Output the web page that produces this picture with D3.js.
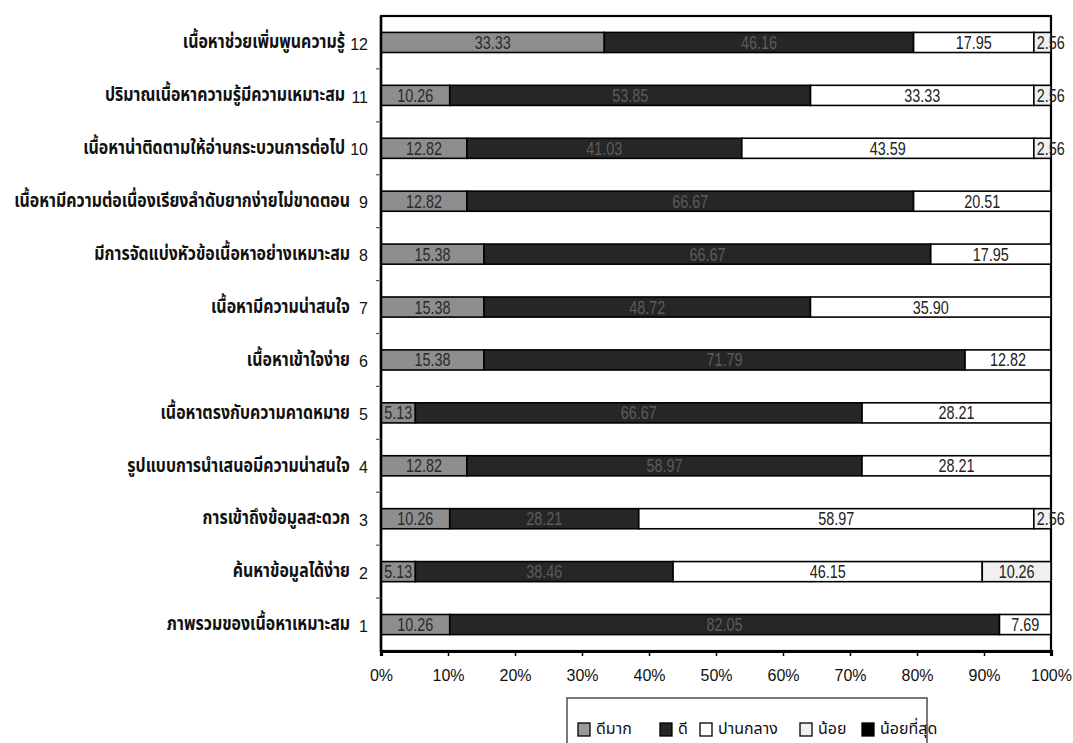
<!DOCTYPE html>
<html><head><meta charset="utf-8">
<script src="https://cdn.jsdelivr.net/npm/d3@7/dist/d3.min.js"></script>
<style>
body{margin:0;background:#fff;}
svg{display:block;}
</style></head>
<body><svg id="c" width="1073" height="743"></svg>
<script>
const categories = [
 "ภาพรวมของเนื้อหาเหมาะสม",
 "ค้นหาข้อมูลได้ง่าย",
 "การเข้าถึงข้อมูลสะดวก",
 "รูปแบบการนำเสนอมีความน่าสนใจ",
 "เนื้อหาตรงกับความคาดหมาย",
 "เนื้อหาเข้าใจง่าย",
 "เนื้อหามีความน่าสนใจ",
 "มีการจัดแบ่งหัวข้อเนื้อหาอย่างเหมาะสม",
 "เนื้อหามีความต่อเนื่องเรียงลำดับยากง่ายไม่ขาดตอน",
 "เนื้อหาน่าติดตามให้อ่านกระบวนการต่อไป",
 "ปริมาณเนื้อหาความรู้มีความเหมาะสม",
 "เนื้อหาช่วยเพิ่มพูนความรู้"
];
const seriesNames = ["ดีมาก","ดี","ปานกลาง","น้อย","น้อยที่สุด"];
const veryGood = [10.26,5.13,10.26,12.82,5.13,15.38,15.38,15.38,12.82,12.82,10.26,33.33];
const good     = [82.05,38.46,28.21,58.97,66.67,71.79,48.72,66.67,66.67,41.03,53.85,46.16];
const medium   = [7.69,46.15,58.97,28.21,28.21,12.82,35.90,17.95,20.51,43.59,33.33,17.95];
const low      = [0,10.26,2.56,0,0,0,0,0,0,2.56,2.56,2.56];
const lowest   = [0,0,0,0,0,0,0,0,0,0,0,0];
const xTicks = [0,10,20,30,40,50,60,70,80,90,100];

const colors = ["#8e8e8e","#262626","#ffffff","#f0f0f0","#000000"];
const labelColors = ["#2a2a2a","#5c5c5c","#222","#222","#888"];

const rows = categories.map((c,i)=>({cat:c, num:i+1, v:[veryGood[i],good[i],medium[i],low[i],lowest[i]]}));

const svg = d3.select("#c");
const L=381, R=1051, T=16, B=651;
const x = d3.scaleLinear().domain([0,100]).range([L,R]);
const order = rows.map(d=>d.num).reverse(); // 12 on top
const y = d3.scaleBand().domain(order).range([T,B]).paddingInner(0.62).paddingOuter(0.31);
const yEdge = d3.scaleLinear().domain([0,12]).range([T,B]);

// plot frame
svg.append("rect").attr("x",L).attr("y",T).attr("width",R-L).attr("height",B-T)
  .attr("fill","#fff").attr("stroke","#000").attr("stroke-width",2.2);

// stacked bars
const stack = d3.stack().keys([0,1,2,3,4]).value((d,k)=>d.v[k]);
const layers = stack(rows);
layers.forEach((layer,k)=>{
  const g = svg.append("g");
  layer.forEach(seg=>{
    const w = seg[1]-seg[0];
    if(w<=0) return;
    g.append("rect").attr("x",x(seg[0])).attr("y",y(seg.data.num))
      .attr("width",x(seg[1])-x(seg[0])).attr("height",y.bandwidth())
      .attr("fill",colors[k]).attr("stroke","#000").attr("stroke-width",1.6);
  });
});
// value labels (condensed)
layers.forEach((layer,k)=>{
  layer.forEach(seg=>{
    const w = seg[1]-seg[0];
    if(w<=0) return;
    const narrow = (x(seg[1])-x(seg[0])) < 30;
    const cx = narrow ? x(seg[0])+3 : x((seg[0]+seg[1])/2);
    const cy = y(seg.data.num)+y.bandwidth()/2;
    svg.append("text").attr("class","val")
      .attr("transform",`translate(${cx},${cy}) scale(0.8,1)`)
      .attr("text-anchor",narrow?"start":"middle").attr("dy","0.36em")
      .attr("font-family","'Liberation Sans','Arial',sans-serif")
      .attr("font-size",18).attr("fill",labelColors[k])
      .text(w.toFixed(2));
  });
});

// x axis
const xa = svg.append("g").attr("transform",`translate(0,${B})`)
  .call(d3.axisBottom(x).tickValues(xTicks).tickFormat(d=>d+"%").tickSize(5).tickPadding(14));
xa.select(".domain").attr("stroke","#000").attr("stroke-width",3.2);
xa.selectAll(".tick line").attr("stroke","#000").attr("stroke-width",1.5);
xa.selectAll("text").attr("font-family","'Liberation Sans','Arial',sans-serif")
  .attr("font-size",16).attr("fill","#111");

// y axis line + edge ticks
svg.append("line").attr("x1",L).attr("x2",L).attr("y1",T).attr("y2",B)
  .attr("stroke","#000").attr("stroke-width",2.5);
svg.append("g").selectAll("line").data(d3.range(1,12)).join("line")
  .attr("x1",L-5).attr("x2",L).attr("y1",d=>yEdge(d)).attr("y2",d=>yEdge(d))
  .attr("stroke","#555").attr("stroke-width",1.2);

// category numbers via axis
const ya = svg.append("g").attr("transform",`translate(${L},0)`)
  .call(d3.axisLeft(y).tickSize(0).tickPadding(13).tickFormat(n=>n));
ya.select(".domain").remove();
ya.selectAll(".tick text").attr("font-family","'Liberation Sans',sans-serif").attr("font-size",16).attr("fill","#111")
  .attr("dy","0.45em");
const catG = svg.append("g");
const catTexts = catG.selectAll("text").data(rows).join("text")
  .attr("text-anchor","end").attr("dy","0.3em")
  .attr("font-family","'Noto Sans Thai','Noto Sans','DejaVu Sans',sans-serif")
  .attr("font-weight","bold").attr("font-size",19).attr("fill","#111")
  .text(d=>d.cat);
// condense to match the narrow Thai face
let maxW = 0; catTexts.each(function(){maxW=Math.max(maxW,this.getComputedTextLength());});
const sx = 336/maxW;
catTexts.attr("transform",d=>{
  const ex = d.num>=10 ? 345 : 350;
  return `translate(${ex},${y(d.num)+y.bandwidth()/2}) scale(${sx},1)`;
});

// legend
const lg = svg.append("g");
lg.append("rect").attr("x",567).attr("y",698).attr("width",360).attr("height",60)
  .attr("fill","#fff").attr("stroke","#333").attr("stroke-width",1.3);
const legX = [578,660,700,800,862];
const legTX = [596,678,718,818,880];
const legColors = ["#9a9a9a","#262626","#ffffff","#f0f0f0","#000000"];
seriesNames.forEach((s,k)=>{
  lg.append("rect").attr("x",legX[k]).attr("y",723).attr("width",12).attr("height",13)
    .attr("fill",legColors[k]).attr("stroke","#000").attr("stroke-width",1.3);
  lg.append("text").attr("x",legTX[k]).attr("y",729).attr("dy","0.32em")
    .attr("font-family","'Noto Sans Thai','Noto Sans','DejaVu Sans',sans-serif")
    .attr("font-size",16).attr("fill","#111").attr("class","leg").text(s);
});
</script></body></html>
